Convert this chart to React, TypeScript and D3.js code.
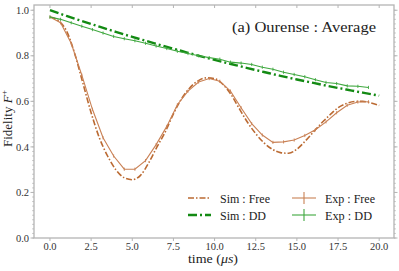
import React from 'react';
import * as d3 from 'd3';

// simulated curves (time in us)
const simTimes = [0, 0.5, 1, 1.5, 2, 2.5, 3, 3.5, 4, 4.5, 5, 5.5, 6, 6.5, 7, 7.5, 8, 8.5, 9, 9.5, 10,
  10.5, 11, 11.5, 12, 12.5, 13, 13.5, 14, 14.5, 15, 15.5, 16, 16.5, 17, 17.5, 18, 18.5, 19, 19.5, 20];
const simFree = [0.97, 0.955, 0.91, 0.81, 0.68, 0.55, 0.44, 0.36, 0.3, 0.265, 0.256, 0.275, 0.33, 0.4, 0.465,
  0.545, 0.612, 0.66, 0.69, 0.703, 0.7, 0.675, 0.63, 0.568, 0.508, 0.458, 0.418, 0.39, 0.375, 0.372, 0.39,
  0.425, 0.465, 0.505, 0.54, 0.572, 0.59, 0.599, 0.6, 0.593, 0.582];
const simDDTimes = [0, 1, 2, 3, 4, 5, 6, 7, 8, 9, 10, 11, 12, 13, 14, 15, 16, 17, 18, 19, 20];
const simDD = [1.0, 0.975, 0.951, 0.928, 0.905, 0.883, 0.862, 0.841, 0.821, 0.801, 0.782, 0.764, 0.746,
  0.729, 0.712, 0.696, 0.681, 0.666, 0.652, 0.638, 0.625];

// measured points
const expTimes = [0, 0.645, 1.29, 1.935, 2.58, 3.225, 3.87, 4.515, 5.16, 5.805, 6.45, 7.095, 7.74, 8.385,
  9.03, 9.675, 10.32, 10.965, 11.61, 12.255, 12.9, 13.545, 14.19, 14.835, 15.48, 16.125, 16.77, 17.415,
  18.06, 18.705, 19.35];
const expFree = [0.97, 0.945, 0.855, 0.715, 0.565, 0.44, 0.36, 0.302, 0.302, 0.34, 0.41, 0.49, 0.585,
  0.645, 0.685, 0.7, 0.688, 0.645, 0.572, 0.502, 0.452, 0.42, 0.422, 0.43, 0.45, 0.475, 0.51, 0.55, 0.583,
  0.597, 0.598];
const expDD = [0.97, 0.96, 0.945, 0.93, 0.915, 0.9, 0.885, 0.875, 0.866, 0.855, 0.843, 0.832, 0.82, 0.81,
  0.8, 0.792, 0.785, 0.772, 0.768, 0.762, 0.75, 0.741, 0.728, 0.718, 0.708, 0.695, 0.683, 0.678, 0.668,
  0.666, 0.661];

const xTicks = [0, 2.5, 5, 7.5, 10, 12.5, 15, 17.5, 20];
const yTicks = [0, 0.2, 0.4, 0.6, 0.8, 1.0];

const W = 399;
const H = 271;
const FONT = "'Liberation Serif', 'DejaVu Serif', serif";
const BROWN = '#bb6a32';
const BROWN_EXP = '#c98155';
const GREEN = '#138a13';
const GREEN_EXP = '#3fa83f';
const FRAME = '#b4b4b4';

const App: React.FC = () => {
  const x = d3.scaleLinear().domain([-0.97, 20.9]).range([34, 394]);
  const y = d3.scaleLinear().domain([0, 1.023]).range([238, 5]);
  const [x0, x1] = x.range();
  const [y0, y1] = y.range();

  const line = d3.line<[number, number]>()
    .x(d => x(d[0]))
    .y(d => y(d[1]));
  const smooth = d3.line<[number, number]>()
    .x(d => x(d[0]))
    .y(d => y(d[1]))
    .curve(d3.curveMonotoneX);

  const zip = (t: number[], v: number[]) => t.map((tt, i) => [tt, v[i]] as [number, number]);
  const minorY = d3.range(0, 51).map(i => i * 0.02);
  const txt = { fontFamily: FONT };

  return (
    <svg width={W} height={H} style={{ position: 'absolute', left: 0, top: 0 }}>
      <rect width={W} height={H} fill="#fff" />

      {/* frame */}
      <rect x={x0} y={y1} width={x1 - x0} height={y0 - y1} fill="none" stroke={FRAME} strokeWidth={1.3} />

      {/* minor y ticks left and right */}
      {minorY.map((v, i) => (
        <g key={'m' + i} stroke={FRAME} strokeWidth={0.8}>
          <line x1={x0 - 1.8} x2={x0} y1={y(v)} y2={y(v)} />
          <line x1={x1} x2={x1 + 1.8} y1={y(v)} y2={y(v)} />
        </g>
      ))}
      {yTicks.map(v => (
        <g key={'y' + v}>
          <line x1={x0 - 3.5} x2={x0} y1={y(v)} y2={y(v)} stroke={FRAME} strokeWidth={1} />
          <line x1={x1} x2={x1 + 3.5} y1={y(v)} y2={y(v)} stroke={FRAME} strokeWidth={1} />
          <text x={x0 - 5} y={y(v)} dy="0.35em" textAnchor="end" style={txt} fontSize={10.5} fill="#333">
            {v.toFixed(1)}
          </text>
        </g>
      ))}
      {xTicks.map(v => (
        <g key={'x' + v}>
          <line x1={x(v)} x2={x(v)} y1={y0} y2={y0 + 3} stroke={FRAME} strokeWidth={1} />
          <line x1={x(v)} x2={x(v)} y1={y1} y2={y1 + 3} stroke={FRAME} strokeWidth={1} />
          <text x={x(v)} y={y0 + 12} textAnchor="middle" style={txt} fontSize={10.5} fill="#333">
            {v.toFixed(1)}
          </text>
        </g>
      ))}

      {/* simulated */}
      <path d={smooth(zip(simTimes, simFree)) || ''} fill="none" stroke={BROWN} strokeWidth={1.6}
        strokeDasharray="6,2,1.5,2" />
      <path d={smooth(zip(simDDTimes, simDD)) || ''} fill="none" stroke={GREEN} strokeWidth={2.4}
        strokeDasharray="9,3,2,3" />

      {/* experiment */}
      <path d={line(zip(expTimes, expFree)) || ''} fill="none" stroke={BROWN_EXP} strokeWidth={1.1} />
      {expTimes.map((t, i) => (
        <line key={'ef' + i} x1={x(t)} x2={x(t)} y1={y(expFree[i]) - 1.6} y2={y(expFree[i]) + 1.6}
          stroke={BROWN_EXP} strokeWidth={0.9} />
      ))}
      <path d={line(zip(expTimes, expDD)) || ''} fill="none" stroke={GREEN_EXP} strokeWidth={1.1} />
      {expTimes.map((t, i) => (
        <line key={'ed' + i} x1={x(t)} x2={x(t)} y1={y(expDD[i]) - 1.6} y2={y(expDD[i]) + 1.6}
          stroke={GREEN_EXP} strokeWidth={0.9} />
      ))}

      {/* title */}
      <text x={232} y={32} style={txt} fontSize={15} fill="#222" textLength={144} lengthAdjust="spacingAndGlyphs">
        (a) Ourense : Average
      </text>

      {/* legend */}
      <g style={txt} fontSize={12.5} fill="#222">
        <line x1={188} x2={211} y1={198} y2={198} stroke={BROWN} strokeWidth={1.6} strokeDasharray="6,2,1.5,2" />
        <text x={220} y={202.5} textLength={50} lengthAdjust="spacingAndGlyphs">Sim : Free</text>
        <line x1={188} x2={211} y1={215} y2={215} stroke={GREEN} strokeWidth={2.4} strokeDasharray="9,3,2,3" />
        <text x={220} y={219.5} textLength={46} lengthAdjust="spacingAndGlyphs">Sim : DD</text>
        <line x1={292} x2={316} y1={198} y2={198} stroke={BROWN_EXP} strokeWidth={1.1} />
        <line x1={304} x2={304} y1={192} y2={204} stroke={BROWN_EXP} strokeWidth={1.1} />
        <text x={325} y={202.5} textLength={50} lengthAdjust="spacingAndGlyphs">Exp : Free</text>
        <line x1={292} x2={316} y1={215} y2={215} stroke={GREEN_EXP} strokeWidth={1.1} />
        <line x1={304} x2={304} y1={209} y2={221} stroke={GREEN_EXP} strokeWidth={1.1} />
        <text x={325} y={219.5} textLength={47} lengthAdjust="spacingAndGlyphs">Exp : DD</text>
      </g>

      {/* axis labels */}
      <text x={188} y={262.5} style={txt} fontSize={13} fill="#222" textLength={50} lengthAdjust="spacingAndGlyphs">
        time (<tspan fontStyle="italic">μs</tspan>)
      </text>
      <text transform="translate(11.5, 147) rotate(-90)" style={txt} fontSize={13} fill="#222">
        Fidelity <tspan fontStyle="italic">F</tspan><tspan fontSize={9} dy={-5}>+</tspan>
      </text>
    </svg>
  );
};

export default App;
